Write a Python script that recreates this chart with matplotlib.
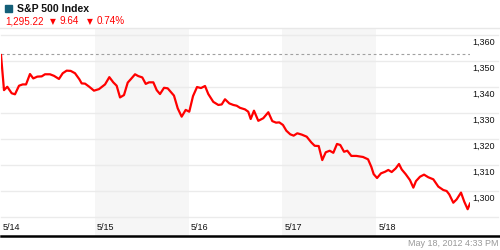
import matplotlib
matplotlib.use("Agg")
import matplotlib.pyplot as plt
from matplotlib.lines import Line2D
from matplotlib.patches import Rectangle

# ---------------- data ----------------
title = "S&P 500 Index"
last_value = "1,295.22"
change_abs = "9.64"
change_pct = "0.74%"
timestamp = "May 18, 2012 4:33 PM"
day_labels = ["5/14", "5/15", "5/16", "5/17", "5/18"]
prev_close = 1352.6
y_ticks = [1300, 1310, 1320, 1330, 1340, 1350, 1360]
y_grid = [1290, 1300, 1310, 1320, 1330, 1340, 1350, 1360]

# time in trading-day units (0 = open of 5/14)
t_day1 = [0.0, 0.032, 0.067, 0.114, 0.149, 0.192, 0.231, 0.267, 0.309, 0.344, 0.387, 0.434,
          0.469, 0.522, 0.565, 0.618, 0.658, 0.700, 0.743, 0.789, 0.835, 0.860, 0.896, 0.941, 0.991]
v_day1 = [1352.3, 1338.8, 1340.1, 1337.6, 1337.2, 1340.5, 1341.0, 1341.0, 1345.0, 1343.3, 1344.0, 1344.1,
          1344.9, 1344.9, 1344.3, 1343.1, 1345.3, 1346.3, 1346.2, 1345.3, 1343.0, 1341.4, 1341.3, 1340.1, 1338.6]
t_day2 = [1.045, 1.109, 1.155, 1.197, 1.233, 1.269, 1.311, 1.351, 1.386, 1.429, 1.464, 1.506,
          1.543, 1.578, 1.624, 1.660, 1.695, 1.738, 1.777, 1.844, 1.884, 1.926, 1.969, 2.007]
v_day2 = [1339.2, 1341.0, 1343.8, 1341.8, 1340.5, 1336.0, 1336.9, 1341.7, 1343.1, 1344.9, 1344.2, 1343.7,
          1341.2, 1341.8, 1341.8, 1338.8, 1337.3, 1339.7, 1339.5, 1336.7, 1331.8, 1328.6, 1331.2, 1330.5]
t_day3 = [2.047, 2.090, 2.132, 2.175, 2.210, 2.263, 2.317, 2.353, 2.388, 2.434, 2.477, 2.513,
          2.548, 2.601, 2.636, 2.662, 2.697, 2.743, 2.796, 2.850, 2.892, 2.932, 2.967, 3.006]
v_day3 = [1336.5, 1340.0, 1339.6, 1340.4, 1337.3, 1334.3, 1333.1, 1333.3, 1335.3, 1333.7, 1333.1, 1332.8,
          1332.0, 1331.4, 1330.5, 1327.7, 1330.9, 1327.0, 1328.0, 1330.3, 1326.9, 1326.3, 1326.4, 1325.4]
t_day4 = [3.042, 3.084, 3.120, 3.159, 3.206, 3.259, 3.308, 3.344, 3.387, 3.425, 3.462, 3.504,
          3.543, 3.582, 3.617, 3.657, 3.692, 3.735, 3.788, 3.859, 3.913, 3.948, 3.973, 4.009]
v_day4 = [1323.2, 1321.8, 1321.3, 1322.2, 1321.7, 1320.9, 1318.7, 1317.4, 1317.3, 1311.9, 1314.9, 1315.5,
          1314.7, 1318.1, 1317.7, 1315.1, 1315.5, 1313.5, 1313.5, 1313.1, 1312.2, 1309.3, 1306.5, 1305.0]
t_day5 = [4.051, 4.094, 4.129, 4.165, 4.208, 4.243, 4.272, 4.314, 4.360, 4.396, 4.424, 4.467,
          4.510, 4.555, 4.609, 4.662, 4.715, 4.751, 4.779, 4.822, 4.858, 4.904, 4.939, 4.975, 5.0]
v_day5 = [1306.8, 1307.4, 1308.1, 1307.3, 1308.7, 1310.4, 1308.3, 1306.5, 1304.2, 1301.3, 1303.8, 1305.5,
          1306.3, 1305.3, 1304.5, 1301.7, 1300.4, 1300.0, 1298.7, 1295.5, 1296.8, 1299.4, 1295.9, 1293.0, 1295.2]

times = t_day1 + t_day2 + t_day3 + t_day4 + t_day5
values = v_day1 + v_day2 + v_day3 + v_day4 + v_day5

# ---------------- style ----------------
W, H = 500, 250
RED = "#ff0000"
GRID = "#ebebeb"
SHADE = "#f6f6f6"
FONT = ["Liberation Sans", "DejaVu Sans"]

fig = plt.figure(figsize=(5, 2.5), dpi=100)
fig.patch.set_facecolor("white")


def fx(px):
    return px / W


def fy(py):
    return 1 - py / H


ax_left, ax_right, ax_top, ax_bottom = 1, 470, 28, 236
ax = fig.add_axes([fx(ax_left), fy(ax_bottom), fx(ax_right - ax_left), (ax_bottom - ax_top) / H])
ax.set_xlim(0, 5)
ax.set_ylim(1282.7, 1362.7)
ax.axis("off")

# shaded alternate days
for d in range(len(day_labels)):
    if d % 2 == 1:
        ax.axvspan(d, d + 1, color=SHADE, zorder=0, lw=0)

# gridlines (extend under right labels)
for g in y_grid:
    ax.axhline(g, xmin=0, xmax=(498 - ax_left) / (ax_right - ax_left), color=GRID, lw=1.0,
               zorder=1, clip_on=False)

# previous close dashed line
ax.axhline(prev_close, color="#a0a0a0", lw=0.8, ls=(0, (2.5, 2.5)), zorder=2)

# price line
ax.plot(times, values, color=RED, lw=1.6, zorder=3, solid_joinstyle="round")

# y labels on the right
for v in y_ticks:
    ax.annotate(f"{v:,}", xy=(1.0, v), xycoords=("axes fraction", "data"),
                xytext=(2, -2.5), textcoords="offset pixels", ha="left", va="top",
                fontsize=6.5, family=FONT, color="#111111")

# x day labels
for d, lab in enumerate(day_labels):
    ax.annotate(lab, xy=(d, 0.043), xycoords=("data", "axes fraction"),
                xytext=(2, 0), textcoords="offset pixels", ha="left", va="center",
                fontsize=6.5, family=FONT, color="#111111")

# top separator and bottom axis line
fig.add_artist(Line2D([0, 1], [fy(28), fy(28)], color="#e8e8e8", lw=1.0, transform=fig.transFigure))
fig.add_artist(Line2D([fx(1), 1], [fy(236), fy(236)], color="black", lw=1.8, transform=fig.transFigure))

# header
fig.add_artist(Rectangle((fx(5), fy(12)), fx(7), 7 / H, color="#145f78", transform=fig.transFigure))
fig.text(fx(17), fy(9.5), title, fontsize=7.6, fontweight="bold", family=FONT, color="#111111",
         ha="left", va="center")
fig.text(fx(5), fy(21.5), last_value, fontsize=7.1, family=FONT, color=RED, ha="left", va="center")
fig.text(fx(49.5), fy(21.5), "\u25bc", fontsize=5.5, family=["DejaVu Sans"], color=RED, ha="left", va="center")
fig.text(fx(59), fy(21.5), change_abs, fontsize=7.1, family=FONT, color=RED, ha="left", va="center")
fig.text(fx(86.5), fy(21.5), "\u25bc", fontsize=5.5, family=["DejaVu Sans"], color=RED, ha="left", va="center")
fig.text(fx(97), fy(21.5), change_pct, fontsize=7.1, family=FONT, color=RED, ha="left", va="center")

# timestamp
fig.text(fx(499), fy(243.5), timestamp, fontsize=6.5, family=FONT, color="#999999",
         ha="right", va="center")

fig.savefig("out.png", dpi=100, facecolor="white")
